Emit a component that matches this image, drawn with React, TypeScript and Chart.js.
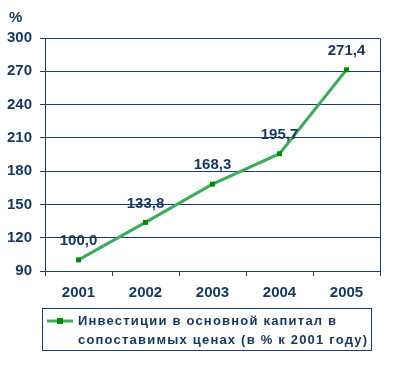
import React, { useEffect, useRef } from "react";
import { Chart, registerables } from "chart.js";

Chart.register(...registerables);

const categories = ["2001", "2002", "2003", "2004", "2005"];
const values = [100.0, 133.8, 168.3, 195.7, 271.4];
const legendLines = [
  "Инвестиции в основной капитал в",
  "сопоставимых ценах (в % к 2001 году)",
];
const yUnit = "%";

const NAVY = "#17365D";
const GRID = "#1F3B6E";
const LINE = "#3DAA5C";
const MARK = "#008A00";
const FONT = "'Liberation Sans', Arial, sans-serif";

const decorPlugin = {
  id: "decor",
  afterDatasetsDraw(chart: any) {
    const ctx = chart.ctx;
    const meta = chart.getDatasetMeta(0);
    ctx.save();
    ctx.fillStyle = NAVY;
    ctx.font = `bold 15px ${FONT}`;
    ctx.textAlign = "center";
    ctx.textBaseline = "middle";
    meta.data.forEach((pt: any, i: number) => {
      const txt = values[i].toFixed(1).replace(".", ",");
      ctx.fillText(txt, pt.x, pt.y - 19);
    });
    ctx.restore();
  },
  afterDraw(chart: any) {
    const ctx = chart.ctx;
    const a = chart.chartArea;
    ctx.save();
    ctx.strokeStyle = GRID;
    ctx.lineWidth = 1;
    ctx.beginPath();
    ctx.moveTo(Math.round(a.right) + 0.5, Math.round(a.top) + 0.5);
    ctx.lineTo(Math.round(a.right) + 0.5, Math.round(a.bottom) + 0.5);
    ctx.stroke();
    ctx.fillStyle = NAVY;
    ctx.font = `bold 15px ${FONT}`;
    ctx.textAlign = "left";
    ctx.textBaseline = "middle";
    ctx.fillText(yUnit, 9, 18);
    const bx = 42, by = 308, bw = 329, bh = 42;
    ctx.strokeStyle = GRID;
    ctx.strokeRect(bx + 0.5, by + 0.5, bw, bh);
    ctx.strokeStyle = LINE;
    ctx.lineWidth = 3;
    ctx.beginPath();
    ctx.moveTo(47, 321);
    ctx.lineTo(73, 321);
    ctx.stroke();
    ctx.fillStyle = MARK;
    ctx.fillRect(57, 318, 6, 6);
    ctx.fillStyle = NAVY;
    ctx.font = `bold 13px ${FONT}`;
    try {
      (ctx as any).letterSpacing = "1.2px";
    } catch (e) {}
    ctx.fillText(legendLines[0], 78, 321);
    ctx.fillText(legendLines[1], 78, 340);
    ctx.restore();
  },
};

export default function App() {
  const ref = useRef<HTMLCanvasElement | null>(null);
  useEffect(() => {
    if (!ref.current) return;
    const chart = new Chart(ref.current, {
      type: "line",
      data: {
        labels: categories,
        datasets: [
          {
            label: legendLines.join(" "),
            data: values,
            borderColor: LINE,
            borderWidth: 3,
            pointStyle: "rect",
            pointRadius: 3.5,
            pointBackgroundColor: MARK,
            pointBorderColor: MARK,
            pointBorderWidth: 0,
            tension: 0,
          },
        ],
      },
      options: {
        responsive: false,
        animation: false,
        layout: { padding: { top: 38, right: 20, left: 0, bottom: 0 } },
        plugins: {
          legend: { display: false },
          tooltip: { enabled: false },
        },
        scales: {
          x: {
            offset: true,
            grid: {
              display: true,
              drawOnChartArea: false,
              drawTicks: true,
              tickLength: 5,
              color: GRID,
              offset: true,
            },
            border: { display: true, color: GRID, width: 1 },
            ticks: {
              color: NAVY,
              font: { family: FONT, size: 15, weight: "bold" },
              padding: 8,
            },
            afterFit(scale: any) {
              scale.height = 98;
            },
          },
          y: {
            min: 90,
            max: 300,
            ticks: {
              stepSize: 30,
              color: NAVY,
              font: { family: FONT, size: 15, weight: "bold" },
              padding: 8,
            },
            grid: { color: GRID, tickLength: 5, drawTicks: true },
            border: { display: true, color: GRID, width: 1 },
            afterFit(scale: any) {
              scale.width = 45;
            },
          },
        },
      } as any,
      plugins: [decorPlugin],
    });
    return () => chart.destroy();
  }, []);
  return (
    <div style={{ position: "absolute", left: 0, top: 0, width: 400, height: 369, background: "#fff" }}>
      <canvas ref={ref} width={400} height={369} />
    </div>
  );
}
